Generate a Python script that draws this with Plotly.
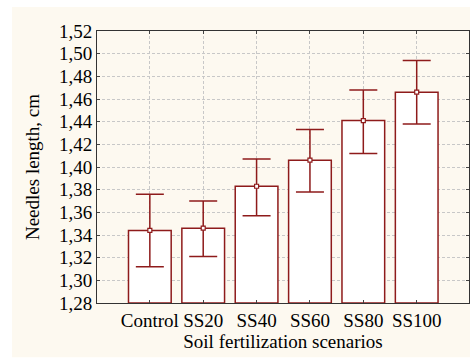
import plotly.graph_objects as go

categories = ["Control", "SS20", "SS40", "SS60", "SS80", "SS100"]
means = [1.344, 1.346, 1.383, 1.406, 1.441, 1.466]
upper = [1.376, 1.370, 1.407, 1.433, 1.468, 1.494]
lower = [1.312, 1.321, 1.357, 1.378, 1.412, 1.438]
y_ticks = [1.28, 1.30, 1.32, 1.34, 1.36, 1.38, 1.40, 1.42, 1.44, 1.46, 1.48, 1.50, 1.52]

x = list(range(len(categories)))
err_plus = [u - m for u, m in zip(upper, means)]
err_minus = [m - l for m, l in zip(means, lower)]
base = y_ticks[0]

RED = "#8E1B1B"
FONT = "Liberation Serif"

fig = go.Figure()
fig.add_trace(go.Bar(
    x=x, y=[m - base for m in means], base=base, width=0.8,
    marker=dict(color="white", line=dict(color=RED, width=1.5)),
    showlegend=False, hoverinfo="skip",
))
fig.add_trace(go.Scatter(
    x=x, y=means, mode="markers",
    marker=dict(symbol="square", size=4, color="white", line=dict(color=RED, width=1.2)),
    error_y=dict(type="data", symmetric=False, array=err_plus, arrayminus=err_minus,
                 color=RED, thickness=1.5, width=14),
    showlegend=False,
))

fig.add_shape(type="rect", xref="paper", yref="paper",
              x0=-85/372, x1=1.01, y0=-(357-302.7)/271.7, y1=1 + (31-7)/271.7,
              fillcolor="#FDF9F0", line=dict(width=0), layer="below")

grid = dict(showgrid=True, gridcolor="#C8C8C8", griddash="3px,2px", gridwidth=1)

fig.update_xaxes(
    range=[-0.99, 5.98], tickmode="array", tickvals=x, ticktext=categories,
    ticks="inside", ticklen=3, tickcolor="#444", showline=True, linecolor="#333",
    linewidth=1, mirror="allticks", zeroline=False,
    tickfont=dict(family=FONT, size=19, color="black"),
    title=dict(text="Soil fertilization scenarios", font=dict(family=FONT, size=19, color="black"), standoff=0),
    **grid,
)
fig.update_yaxes(
    range=[1.28, 1.52], tickmode="array", tickvals=y_ticks,
    ticktext=[f"{v:.2f}".replace(".", ",") for v in y_ticks],
    ticks="inside", ticklen=3, tickcolor="#444", showline=True, linecolor="#333",
    linewidth=1, mirror="allticks", zeroline=False,
    tickfont=dict(family=FONT, size=19, color="black"),
    title=dict(text="Needles length, cm", font=dict(family=FONT, size=19, color="black"), standoff=14),
    **grid,
)

fig.update_layout(
    width=470, height=361,
    margin=dict(l=97, r=1, t=31, b=58.3),
    paper_bgcolor="white", plot_bgcolor="white",
    font=dict(family=FONT, size=19, color="black"),
)

fig.write_html("out.html")
